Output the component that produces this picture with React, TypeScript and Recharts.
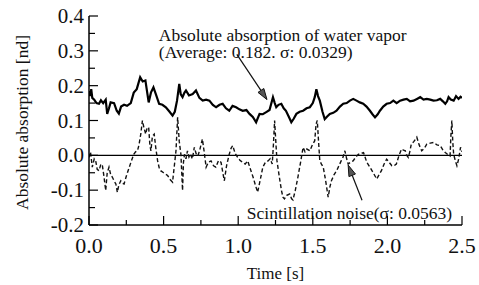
import {
  ComposedChart,
  Line,
  XAxis,
  YAxis,
  ReferenceLine,
  ReferenceDot,
} from "recharts";

const FONT = "'Liberation Serif', 'Times New Roman', Times, serif";

// Absolute absorption of water vapor (solid)
const absT = [
  0, 0.008, 0.015, 0.022, 0.035, 0.05, 0.067, 0.08, 0.095, 0.112, 0.122, 0.134, 0.145, 0.168,
  0.186, 0.2, 0.215, 0.235, 0.255, 0.28, 0.3, 0.32, 0.343, 0.36, 0.378, 0.392, 0.4, 0.415,
  0.432, 0.448, 0.47, 0.492, 0.515, 0.54, 0.56, 0.575, 0.59, 0.605, 0.615, 0.627, 0.64, 0.65,
  0.67, 0.695, 0.717, 0.74, 0.762, 0.785, 0.807, 0.83, 0.852, 0.875, 0.896, 0.918, 0.94,
  0.962, 0.986, 1.008, 1.03, 1.055, 1.076, 1.098, 1.12, 1.143, 1.165, 1.188, 1.21, 1.233,
  1.245, 1.255, 1.27, 1.289, 1.305, 1.32, 1.34, 1.356, 1.372, 1.39, 1.412, 1.435, 1.458,
  1.48, 1.5, 1.513, 1.524, 1.535, 1.547, 1.565, 1.58, 1.598, 1.614, 1.637, 1.659, 1.682,
  1.704, 1.727, 1.749, 1.771, 1.793, 1.815, 1.838, 1.86, 1.883, 1.9, 1.917, 1.935, 1.95,
  1.972, 1.995, 2.018, 2.04, 2.062, 2.085, 2.108, 2.13, 2.152, 2.175, 2.198, 2.22, 2.242,
  2.264, 2.287, 2.309, 2.332, 2.354, 2.372, 2.388, 2.4, 2.41, 2.425, 2.444, 2.46, 2.477,
  2.49, 2.5,
];
const absV = [
  0.185, 0.17, 0.19, 0.165, 0.16, 0.15, 0.148, 0.158, 0.15, 0.16, 0.119, 0.135, 0.152, 0.15,
  0.128, 0.12, 0.14, 0.145, 0.142, 0.15, 0.18, 0.19, 0.224, 0.212, 0.215, 0.175, 0.152, 0.18,
  0.195, 0.176, 0.148, 0.145, 0.138, 0.125, 0.114, 0.125, 0.157, 0.205, 0.175, 0.167, 0.18,
  0.186, 0.172, 0.176, 0.186, 0.165, 0.157, 0.16, 0.157, 0.145, 0.138, 0.145, 0.148, 0.135,
  0.128, 0.142, 0.138, 0.132, 0.128, 0.13, 0.119, 0.11, 0.095, 0.119, 0.118, 0.124, 0.13,
  0.167, 0.15, 0.138, 0.145, 0.148, 0.135, 0.128, 0.11, 0.095, 0.105, 0.119, 0.125, 0.128,
  0.135, 0.138, 0.15, 0.167, 0.19, 0.17, 0.157, 0.125, 0.104, 0.112, 0.119, 0.122, 0.128,
  0.14, 0.148, 0.15, 0.157, 0.162, 0.157, 0.152, 0.148, 0.14, 0.128, 0.118, 0.109, 0.118,
  0.128, 0.14, 0.148, 0.15, 0.157, 0.15, 0.157, 0.16, 0.162, 0.155, 0.157, 0.162, 0.167,
  0.16, 0.162, 0.16, 0.157, 0.158, 0.162, 0.155, 0.148, 0.155, 0.167, 0.16, 0.157, 0.17,
  0.162, 0.168, 0.165,
];

// Scintillation noise (dashed)
const noiseT = [
  0, 0.01, 0.022, 0.035, 0.045, 0.055, 0.067, 0.08, 0.09, 0.1, 0.112, 0.122, 0.134, 0.145,
  0.157, 0.17, 0.18, 0.19, 0.2, 0.213, 0.225, 0.235, 0.25, 0.27, 0.285, 0.3, 0.312, 0.325,
  0.335, 0.347, 0.358, 0.368, 0.38, 0.39, 0.4, 0.408, 0.415, 0.425, 0.437, 0.448, 0.46, 0.47,
  0.48, 0.5, 0.527, 0.545, 0.56, 0.572, 0.583, 0.594, 0.605, 0.616, 0.627, 0.633, 0.64, 0.65,
  0.66, 0.67, 0.68, 0.693, 0.706, 0.718, 0.73, 0.745, 0.76, 0.772, 0.785, 0.8, 0.818, 0.835,
  0.85, 0.868, 0.885, 0.897, 0.907, 0.922, 0.94, 0.952, 0.963, 0.98, 0.997, 1.013, 1.03,
  1.047, 1.064, 1.082, 1.1, 1.115, 1.13, 1.148, 1.165, 1.182, 1.2, 1.214, 1.228, 1.236,
  1.244, 1.252, 1.26, 1.275, 1.29, 1.3, 1.31, 1.325, 1.345, 1.358, 1.367, 1.383, 1.4, 1.418,
  1.435, 1.448, 1.46, 1.48, 1.497, 1.513, 1.522, 1.53, 1.54, 1.547, 1.558, 1.57, 1.585,
  1.603, 1.615, 1.625, 1.643, 1.66, 1.675, 1.69, 1.703, 1.715, 1.727, 1.737, 1.753, 1.77,
  1.788, 1.805, 1.822, 1.84, 1.862, 1.883, 1.905, 1.928, 1.945, 1.96, 1.978, 1.995, 2.012,
  2.03, 2.045, 2.06, 2.078, 2.095, 2.108, 2.12, 2.13, 2.14, 2.15, 2.16, 2.178, 2.197, 2.213,
  2.23, 2.247, 2.264, 2.287, 2.31, 2.332, 2.354, 2.372, 2.388, 2.405, 2.42, 2.426, 2.432,
  2.438, 2.444, 2.455, 2.466, 2.478, 2.49, 2.5,
];
const noiseV = [
  -0.006, 0.01, -0.034, -0.01, -0.016, -0.04, -0.044, -0.025, -0.03, -0.06, -0.101, -0.05,
  -0.034, -0.055, -0.063, -0.075, -0.082, -0.106, -0.085, -0.073, -0.08, -0.082, -0.06,
  -0.034, -0.015, 0.003, 0.01, 0.013, 0.03, 0.061, 0.1, 0.08, 0.061, 0.08, 0.08, 0.03, 0.013,
  0.055, 0.061, 0.02, -0.016, -0.035, -0.044, -0.05, -0.058, -0.07, -0.077, -0.03, 0.013,
  0.109, 0.04, 0.003, -0.101, -0.02, 0.003, -0.01, 0.013, -0.005, 0.003, -0.01, 0.023, 0.005,
  -0.002, 0.02, 0.047, 0.01, -0.034, -0.02, -0.016, -0.03, -0.034, -0.015, -0.02, -0.05,
  -0.073, -0.03, 0.003, 0.02, 0.028, 0.005, -0.006, -0.015, -0.02, -0.025, -0.016, -0.04,
  -0.063, -0.085, -0.106, -0.07, -0.034, -0.02, -0.016, -0.01, -0.025, 0.03, 0.1, 0.04,
  -0.016, -0.06, -0.101, -0.12, -0.125, -0.115, -0.111, -0.125, -0.128, -0.1, -0.063, -0.02,
  0.023, 0.01, 0.018, 0.013, 0.03, 0.042, 0.09, 0.1, 0.03, -0.016, -0.025, -0.034, -0.07,
  -0.12, -0.09, -0.073, -0.055, -0.044, -0.03, -0.016, -0.005, 0.013, -0.01, -0.025, -0.02,
  -0.016, -0.005, 0.003, 0.005, 0.008, -0.02, -0.034, -0.05, -0.068, -0.055, -0.044, -0.025,
  -0.011, -0.02, -0.03, -0.03, -0.025, 0, 0.018, 0.015, 0.013, 0, -0.006, 0.01, 0.032, 0.04,
  0.052, 0.03, 0.013, 0.02, 0.032, 0.035, 0.037, 0.03, 0.028, 0.015, 0.008, 0.002, -0.002,
  0.06, 0.1, 0.04, 0.003, -0.015, -0.03, -0.01, 0.023, 0.01,
];

const xTicks = [0, 0.25, 0.5, 0.75, 1, 1.25, 1.5, 1.75, 2, 2.25, 2.5];
const xTickLabels = ["0.0", "", "0.5", "", "1.0", "", "1.5", "", "2.0", "", "2.5"];
const yTicks = [-0.2, -0.15, -0.1, -0.05, 0, 0.05, 0.1, 0.15, 0.2, 0.25, 0.3, 0.35, 0.4];
const yTickLabels = ["-0.2", "", "-0.1", "", "0.0", "", "0.1", "", "0.2", "", "0.3", "", "0.4"];

const absData = absT.map((t, i) => ({ t, v: absV[i] }));
const noiseData = noiseT.map((t, i) => ({ t, v: noiseV[i] }));

const textStyle = { fontFamily: FONT };

function BottomTick({ x, y, index }: any) {
  const label = xTickLabels[index];
  return (
    <g>
      <line x1={x} x2={x} y1={y} y2={y - (label ? 9 : 5)} stroke="#000" strokeWidth={1.2} />
      {label && (
        <text x={x} y={y + 20} textAnchor="middle" dominantBaseline="central" fontSize={22} fill="#111" style={textStyle}>
          {label}
        </text>
      )}
    </g>
  );
}

function TopTick({ x, y, index }: any) {
  return <line x1={x} x2={x} y1={y} y2={y + (xTickLabels[index] ? 9 : 5)} stroke="#000" strokeWidth={1.2} />;
}

function LeftTick({ x, y, index }: any) {
  const label = yTickLabels[index];
  return (
    <g>
      <line x1={x} x2={x + (label ? 9 : 6)} y1={y} y2={y} stroke="#000" strokeWidth={1.2} />
      {label && (
        <text x={x - 5} y={y} textAnchor="end" dominantBaseline="central" fontSize={21} fill="#111" style={textStyle}>
          {label}
        </text>
      )}
    </g>
  );
}

function RightTick({ x, y, index }: any) {
  return <line x1={x} x2={x - (yTickLabels[index] ? 9 : 6)} y1={y} y2={y} stroke="#000" strokeWidth={1.2} />;
}

function Arrow({ x1, y1, x2, y2 }: any) {
  const ang = Math.atan2(y2 - y1, x2 - x1);
  const len = 11;
  const w = 3.5;
  const bx = x2 - len * Math.cos(ang);
  const by = y2 - len * Math.sin(ang);
  const px = -Math.sin(ang) * w;
  const py = Math.cos(ang) * w;
  return (
    <g>
      <line x1={x1} y1={y1} x2={bx} y2={by} stroke="#111" strokeWidth={1.2} />
      <polygon points={`${x2},${y2} ${bx + px},${by + py} ${bx - px},${by - py}`} fill="#555" stroke="#111" strokeWidth={1} />
    </g>
  );
}

const noteLabel = (text: string) => (props: any) => {
  const vb = props.viewBox || {};
  return (
    <text x={vb.x} y={vb.y} textAnchor="start" fontSize={17.5} fill="#111" style={textStyle}>
      {text}
    </text>
  );
};

export default function App() {
  return (
    <div style={{ position: "absolute", left: 0, top: 0, width: 479, height: 285, background: "#fff", fontFamily: FONT }}>
      <ComposedChart width={479} height={285} margin={{ top: 16, right: 17, bottom: 0, left: 0 }}>
        <XAxis
          xAxisId="x"
          type="number"
          dataKey="t"
          domain={[0, 2.5]}
          ticks={xTicks}
          interval={0}
          allowDataOverflow
          height={60}
          tickSize={0}
          tickMargin={0}
          tickLine={false}
          axisLine={{ stroke: "#000", strokeWidth: 1.5 }}
          tick={(p: any) => <BottomTick {...p} />}
          label={(p: any) => {
            const vb = p.viewBox || {};
            return (
              <text x={vb.x + vb.width / 2} y={279} textAnchor="middle" fontSize={17} fill="#111" style={textStyle}>
                Time [s]
              </text>
            );
          }}
        />
        <XAxis
          xAxisId="xt"
          orientation="top"
          type="number"
          domain={[0, 2.5]}
          ticks={xTicks}
          interval={0}
          allowDataOverflow
          height={0}
          tickSize={0}
          tickMargin={0}
          tickLine={false}
          axisLine={{ stroke: "#000", strokeWidth: 1.5 }}
          tick={(p: any) => <TopTick {...p} />}
        />
        <YAxis
          yAxisId="y"
          type="number"
          domain={[-0.2, 0.4]}
          ticks={yTicks}
          interval={0}
          allowDataOverflow
          width={89}
          tickSize={0}
          tickMargin={0}
          tickLine={false}
          axisLine={{ stroke: "#000", strokeWidth: 1.5 }}
          tick={(p: any) => <LeftTick {...p} />}
          label={(p: any) => {
            const vb = p.viewBox || {};
            const cx = vb.x + 22;
            const cy = vb.y + vb.height / 2 + 2;
            return (
              <text x={cx} y={cy} transform={`rotate(-90, ${cx}, ${cy})`} textAnchor="middle" dominantBaseline="central" fontSize={17.5} fill="#111" style={textStyle}>
                Absolute absorption [nd]
              </text>
            );
          }}
        />
        <YAxis
          yAxisId="yr"
          orientation="right"
          type="number"
          domain={[-0.2, 0.4]}
          ticks={yTicks}
          interval={0}
          allowDataOverflow
          width={0}
          tickSize={0}
          tickMargin={0}
          tickLine={false}
          axisLine={{ stroke: "#000", strokeWidth: 1.5 }}
          tick={(p: any) => <RightTick {...p} />}
        />
        <ReferenceLine xAxisId="x" yAxisId="y" y={0} stroke="#000" strokeWidth={1.2} />
        <Line
          xAxisId="x"
          yAxisId="y"
          data={noiseData}
          dataKey="v"
          type="linear"
          stroke="#111"
          strokeWidth={1.4}
          strokeDasharray="4 2.5"
          dot={false}
          isAnimationActive={false}
        />
        <Line
          xAxisId="x"
          yAxisId="y"
          data={absData}
          dataKey="v"
          type="linear"
          stroke="#000"
          strokeWidth={2.2}
          dot={false}
          isAnimationActive={false}
        />
        <ReferenceLine
          xAxisId="x"
          yAxisId="y"
          segment={[{ x: 0.991, y: 0.29 }, { x: 1.193, y: 0.16 }]}
          ifOverflow="visible"
          shape={(p: any) => <Arrow {...p} />}
        />
        <ReferenceLine
          xAxisId="x"
          yAxisId="y"
          segment={[{ x: 1.83, y: -0.129 }, { x: 1.737, y: -0.028 }]}
          ifOverflow="visible"
          shape={(p: any) => <Arrow {...p} />}
        />
        <ReferenceDot xAxisId="x" yAxisId="y" x={0.468} y={0.327} r={0} fill="none" stroke="none" ifOverflow="visible" label={noteLabel("Absolute absorption of water vapor")} />
        <ReferenceDot xAxisId="x" yAxisId="y" x={0.468} y={0.278} r={0} fill="none" stroke="none" ifOverflow="visible" label={noteLabel("(Average: 0.182. σ: 0.0329)")} />
        <ReferenceDot xAxisId="x" yAxisId="y" x={1.058} y={-0.184} r={0} fill="none" stroke="none" ifOverflow="visible" label={noteLabel("Scintillation noise(σ: 0.0563)")} />
      </ComposedChart>
    </div>
  );
}
